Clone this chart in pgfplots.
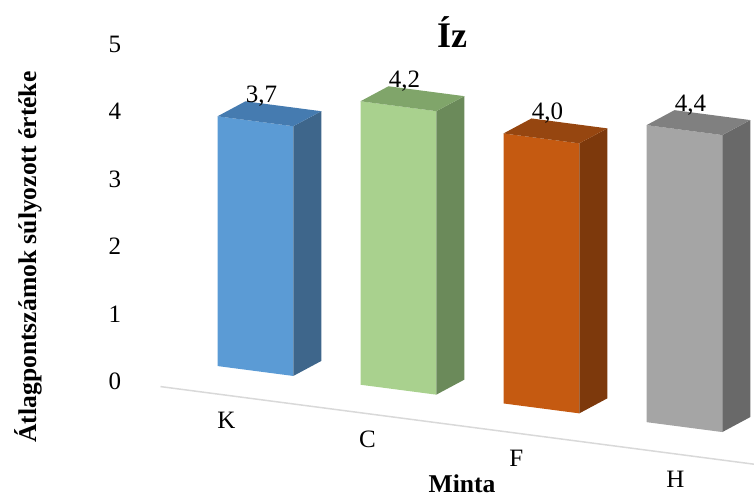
\documentclass[border=0pt]{standalone}
\usepackage{fontspec}
\setmainfont{Liberation Serif}
\usepackage{pgfplots}
\pgfplotsset{compat=1.18}
\definecolor{Kf}{HTML}{5B9BD5}\definecolor{Ks}{HTML}{3E668B}\definecolor{Kt}{HTML}{457BB0}
\definecolor{Cf}{HTML}{A9D18E}\definecolor{Cs}{HTML}{6B8A5A}\definecolor{Ct}{HTML}{80A56A}
\definecolor{Ff}{HTML}{C55A11}\definecolor{Fs}{HTML}{7D390C}\definecolor{Ft}{HTML}{964610}
\definecolor{Hf}{HTML}{A5A5A5}\definecolor{Hs}{HTML}{696969}\definecolor{Ht}{HTML}{808080}
% #1 left x, #2 right x, #3 value, #4 front, #5 side, #6 top colour
\newcommand{\cuboid}[6]{%
  \addplot3[fill=#4, draw=none, mark=none] coordinates {(#1,0,0) (#2,0,0) (#2,0,#3) (#1,0,#3)};
  \addplot3[fill=#5, draw=none, mark=none] coordinates {(#2,0,0) (#2,1,0) (#2,1,#3) (#2,0,#3)};
  \addplot3[fill=#6, draw=none, mark=none] coordinates {(#1,0,#3) (#2,0,#3) (#2,1,#3) (#1,1,#3)};
}
\begin{document}
\begin{tikzpicture}
\useasboundingbox (0,0) rectangle (377pt,250pt);
\clip (0,0) rectangle (377pt,250pt);
\begin{axis}[
  at={(127.7pt,64.5pt)}, anchor=origin,
  disabledatascaling,
  x={(71.5pt,-9.35pt)}, y={(14pt,7.5pt)}, z={(0pt,33.75pt)},
  xmin=-0.37, xmax=3.8, ymin=-1.5, ymax=1, zmin=0, zmax=5,
  axis line style={draw=none},
  tick style={draw=none}, major tick length=0pt,
  xtick={0,0.986,2.028,3.14}, xticklabels={K,C,F,H},
  ytick=\empty,
  ztick={0,1,2,3,4,5},
  xticklabel style={anchor=center, xshift=6.5pt, yshift=-13.5pt},
  zticklabel style={anchor=center, xshift=-22.75pt, yshift=2.5pt},
  tick label style={font=\fontsize{12.5}{14}\selectfont},
  /pgf/number format/assume math mode=true,
  clip=false,
]
\addplot3[draw={rgb,255:red,217;green,217;blue,217}, line width=0.75pt, mark=none] coordinates {(-0.37,-1.5,0) (3.8,-1.5,0)};
\cuboid{-0.265}{0.265}{3.7}{Kf}{Ks}{Kt}
\cuboid{0.735}{1.265}{4.2}{Cf}{Cs}{Ct}
\cuboid{1.735}{2.265}{4.0}{Ff}{Fs}{Ft}
\cuboid{2.735}{3.265}{4.4}{Hf}{Hs}{Ht}
\addplot3[draw=none, mark=none, point meta=z,
  nodes near coords={\pgfmathprintnumber[fixed,fixed zerofill,precision=1,use comma]{\pgfplotspointmeta}},
  every node near coord/.append style={anchor=base, xshift=-4pt, yshift=5.5pt, font=\fontsize{12.5}{14}\selectfont}]
  coordinates {(0,0.5,3.7) (1,0.5,4.2) (2,0.5,4.0) (3,0.5,4.4)};
\end{axis}
\node[font=\bfseries\fontsize{18}{21}\selectfont] at (226pt,234pt) {Íz};
\node[rotate=90, font=\bfseries\fontsize{12.8}{15}\selectfont] at (14pt,121.5pt) {Átlagpontszámok súlyozott értéke};
\node[font=\bfseries\fontsize{12.8}{15}\selectfont, inner sep=1pt] at (231pt,8pt) {Minta};
\end{tikzpicture}
\end{document}
